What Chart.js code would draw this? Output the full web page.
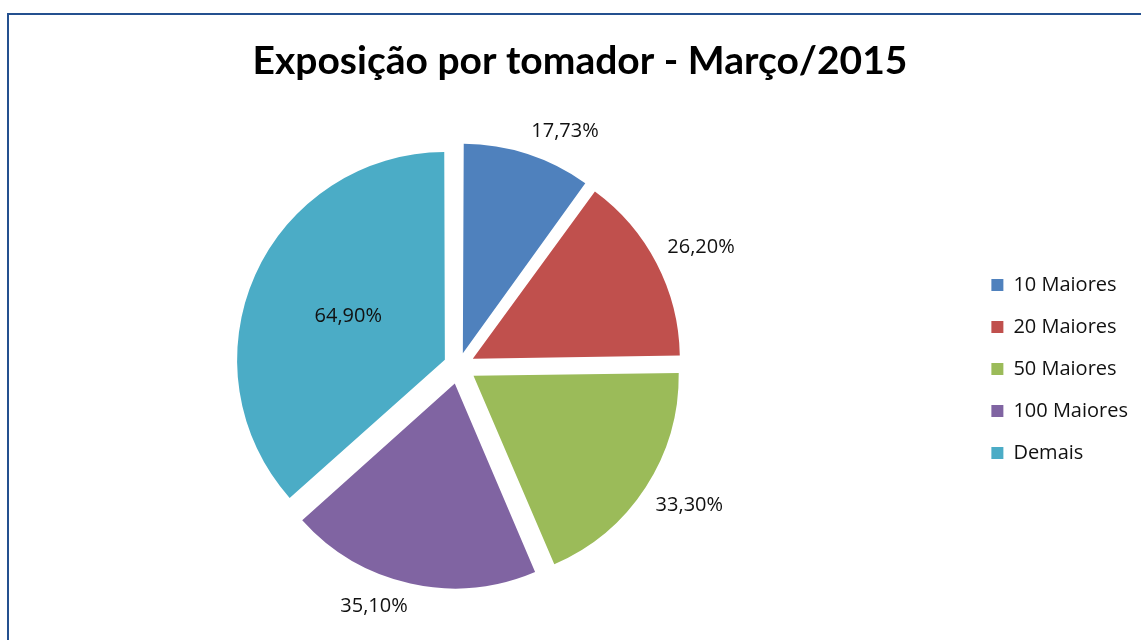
<!DOCTYPE html>
<html>
<head>
<meta charset="utf-8">
<script src="https://cdn.jsdelivr.net/npm/chart.js@4/dist/chart.umd.min.js"></script>
<style>
    html, body { margin: 0; padding: 0; background: #fff; overflow: hidden; }
    #frame {
        position: absolute; left: 7px; top: 13px; width: 1200px; height: 700px;
        border-left: 2px solid #24508f; border-top: 2px solid #24508f;
    }
    #c { position: absolute; left: 22px; top: 16px; }
</style>
</head>
<body>
<div id="frame"></div>
<canvas id="c" width="1116" height="624"></canvas>
<script>
const chartTitle = 'Exposição por tomador - Março/2015';
const categories = ['10 Maiores', '20 Maiores', '50 Maiores', '100 Maiores', 'Demais'];
const shares = [17.73, 26.20, 33.30, 35.10, 64.90];
const sliceColors = ['#4F81BD', '#C0504D', '#9BBB59', '#8064A2', '#4BACC6'];

const EXPLODE = 19; // px each slice is pulled out along its bisector
const total = shares.reduce((a, b) => a + b, 0);

// chart.js scales the arc translation by (2 - sin(circumference)) / 4,
// so undo that to get the same explode distance on every slice
function sliceOffset(ctx) {
    const circ = shares[ctx.dataIndex] / total * Math.PI * 2;
    return 4 * EXPLODE / (2 - Math.sin(Math.min(Math.PI, circ)));
}

const fmtPct = v => v.toFixed(2).replace('.', ',') + '%';

const pctLabels = {
    id: 'pctLabels',
    afterDatasetsDraw(chart) {
        const {ctx} = chart;
        const meta = chart.getDatasetMeta(0);
        ctx.save();
        ctx.font = '20px "Open Sans"';
        ctx.fillStyle = '#111';
        ctx.textAlign = 'center';
        ctx.textBaseline = 'middle';
        meta.data.forEach((arc, i) => {
            const {x, y, startAngle, endAngle, outerRadius} =
                arc.getProps(['x', 'y', 'startAngle', 'endAngle', 'outerRadius'], true);
            const mid = (startAngle + endAngle) / 2;
            const dx = Math.cos(mid), dy = Math.sin(mid);
            const text = fmtPct(shares[i]);
            let px, py;
            if (endAngle - startAngle > Math.PI / 2) {
                const r = outerRadius / 2 + EXPLODE;
                px = x + dx * r;
                py = y + dy * r;
            } else {
                const w = ctx.measureText(text).width;
                const r = outerRadius + EXPLODE + 12;
                px = x + dx * r + Math.sign(dx) * w / 2;
                py = y + dy * r + Math.sign(dy) * 11;
            }
            ctx.fillText(text, px, py);
        });
        ctx.restore();
    }
};

new Chart(document.getElementById('c'), {
    type: 'pie',
    data: {
        labels: categories,
        datasets: [{
            data: shares,
            backgroundColor: sliceColors,
            borderWidth: 0,
            hoverBorderWidth: 0,
            hoverOffset: 0,
            offset: sliceOffset
        }]
    },
    options: {
        responsive: false,
        animation: false,
        events: [],
        layout: {padding: {top: 0, left: 0, right: 0, bottom: 34}},
        plugins: {
            title: {
                display: true,
                text: chartTitle,
                color: '#000',
                font: {family: 'Lato', size: 39, weight: 'bold'},
                padding: {top: 22, bottom: 41.2}
            },
            // empty box that keeps the legend away from the pie
            subtitle: {
                display: true,
                text: '',
                position: 'right',
                fullSize: false,
                weight: 500,
                font: {size: 10},
                padding: {top: 31, bottom: 31}
            },
            legend: {
                position: 'right',
                align: 'center',
                fullSize: false,
                title: {display: true, text: '', font: {size: 5}, padding: 0},
                labels: {
                    boxWidth: 12,
                    boxHeight: 12,
                    padding: 22,
                    color: '#111',
                    font: {family: 'Open Sans', size: 20}
                }
            },
            tooltip: {enabled: false}
        }
    },
    plugins: [pctLabels]
});
</script>
</body>
</html>
